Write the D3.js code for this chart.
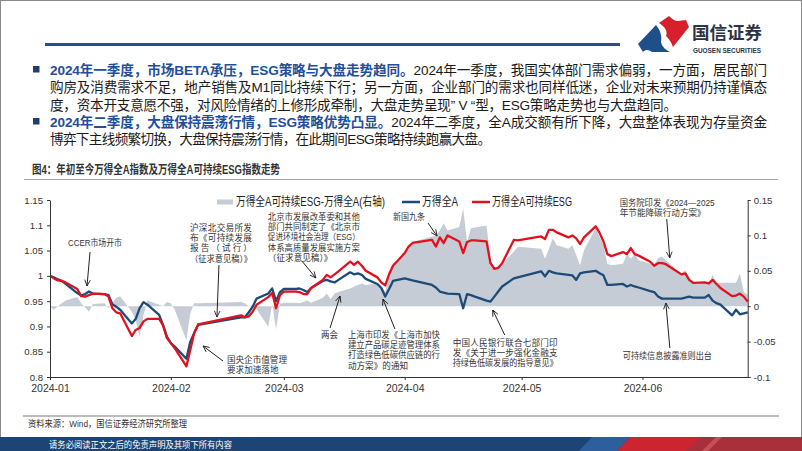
<!DOCTYPE html>
<html><head><meta charset="utf-8">
<script src="https://cdn.jsdelivr.net/npm/d3@7"></script>
<style>
html,body{margin:0;padding:0;background:#fff;}
svg{display:block;}
text{font-family:"Liberation Sans","Noto Sans CJK SC",sans-serif;}
</style></head><body>
<svg id="c" width="802" height="451"></svg>
<script>
// ---------------- DATA ----------------
const dates = [
 "2024-01-01","2024-01-02","2024-01-03","2024-01-04","2024-01-05","2024-01-08","2024-01-09","2024-01-10","2024-01-11","2024-01-12",
 "2024-01-15","2024-01-16","2024-01-17","2024-01-18","2024-01-19","2024-01-22","2024-01-23","2024-01-24","2024-01-25","2024-01-26",
 "2024-01-29","2024-01-30","2024-01-31",
 "2024-02-01","2024-02-02","2024-02-05","2024-02-06","2024-02-07","2024-02-08","2024-02-19","2024-02-20","2024-02-21","2024-02-22",
 "2024-02-23","2024-02-26","2024-02-27","2024-02-28","2024-02-29",
 "2024-03-01","2024-03-04","2024-03-05","2024-03-06","2024-03-07","2024-03-08","2024-03-11","2024-03-12","2024-03-13","2024-03-14",
 "2024-03-15","2024-03-18","2024-03-19","2024-03-20","2024-03-21","2024-03-22","2024-03-25","2024-03-26","2024-03-27","2024-03-28","2024-03-29",
 "2024-04-01","2024-04-02","2024-04-03","2024-04-08","2024-04-09","2024-04-10","2024-04-11","2024-04-12","2024-04-15","2024-04-16",
 "2024-04-17","2024-04-18","2024-04-19","2024-04-22","2024-04-23","2024-04-24","2024-04-25","2024-04-26","2024-04-29","2024-04-30",
 "2024-05-06","2024-05-07","2024-05-08","2024-05-09","2024-05-10","2024-05-13","2024-05-14","2024-05-15","2024-05-16","2024-05-17",
 "2024-05-20","2024-05-21","2024-05-22","2024-05-23","2024-05-24","2024-05-27","2024-05-28","2024-05-29","2024-05-30","2024-05-31",
 "2024-06-03","2024-06-04","2024-06-05","2024-06-06","2024-06-07","2024-06-11","2024-06-12","2024-06-13","2024-06-14","2024-06-17",
 "2024-06-18","2024-06-19","2024-06-20","2024-06-21","2024-06-24","2024-06-25","2024-06-26","2024-06-27","2024-06-28"
];
// 万得全A (left axis)
const allA = [
 1.000,0.997,0.993,0.990,0.984,0.966,0.961,0.964,0.969,0.965,0.964,0.962,0.944,0.939,0.933,0.906,0.915,0.936,0.948,0.943,0.923,0.903,0.880,
 0.867,0.860,0.836,0.870,0.887,0.903,0.918,0.918,0.928,0.939,0.955,0.965,0.975,0.950,0.968,
 0.974,0.974,0.975,0.972,0.968,0.976,0.990,0.992,0.989,0.987,0.992,1.007,1.003,1.005,1.002,0.994,0.984,0.976,0.959,0.974,0.990,
 0.995,0.993,0.991,0.982,0.977,0.969,0.967,0.965,0.964,0.936,0.964,0.962,0.959,0.951,0.949,0.959,0.969,0.979,0.995,0.997,
 1.009,0.999,1.010,1.007,1.005,1.002,1.001,0.992,1.005,1.007,1.010,1.005,1.001,0.982,0.982,0.984,0.979,0.982,0.979,0.977,
 0.970,0.968,0.959,0.955,0.955,0.955,0.957,0.959,0.957,0.957,0.962,0.951,0.946,0.943,0.922,0.933,0.924,0.926,0.928
];
// 万得全A可持续ESG (left axis)
const esgA = [
 1.000,0.995,0.991,0.990,0.987,0.974,0.960,0.959,0.962,0.965,0.964,0.959,0.936,0.928,0.926,0.881,0.893,0.897,0.910,0.915,0.915,0.902,0.877,
 0.867,0.857,0.821,0.854,0.887,0.904,0.922,0.918,0.920,0.929,0.943,0.958,0.966,0.936,0.962,
 0.969,0.969,0.968,0.964,0.964,0.976,0.992,1.002,0.997,1.003,1.009,1.028,1.022,1.028,1.020,1.010,0.997,0.987,0.981,1.003,1.020,
 1.045,1.058,1.065,1.071,1.058,1.076,1.065,1.080,1.068,1.045,1.067,1.070,1.070,1.068,1.025,1.014,1.016,1.025,1.071,1.070,
 1.078,1.073,1.091,1.091,1.086,1.076,1.080,1.074,1.063,1.076,1.098,1.085,1.068,1.043,1.039,1.047,1.043,1.055,1.043,1.040,
 1.028,1.020,1.025,1.025,1.023,1.003,1.005,0.992,0.986,0.987,0.985,0.992,0.984,0.976,0.960,0.961,0.965,0.959,0.949
];
// 万得全A可持续ESG-万得全A (right axis)
const spread = [
 0.000,-0.005,0.000,0.004,0.008,0.013,0.004,-0.002,-0.008,0.003,0.004,-0.003,0.004,0.012,0.014,-0.008,-0.020,-0.043,-0.012,0.008,0.002,0.000,0.006,
 0.004,-0.005,-0.048,-0.010,0.004,0.004,0.006,0.004,0.000,0.002,-0.004,-0.029,0.003,-0.033,0.003,
 0.005,0.005,0.004,0.006,0.008,0.005,0.012,0.018,0.010,0.018,0.020,0.025,0.028,0.030,0.032,0.030,0.032,0.028,0.020,0.045,0.060,
 0.072,0.081,0.091,0.098,0.100,0.107,0.117,0.107,0.112,0.138,0.091,0.110,0.111,0.114,0.065,0.053,0.056,0.060,0.077,0.084,
 0.081,0.067,0.081,0.096,0.086,0.081,0.086,0.072,0.058,0.079,0.110,0.098,0.086,0.060,0.058,0.060,0.074,0.067,0.074,0.065,
 0.060,0.058,0.068,0.070,0.065,0.046,0.051,0.039,0.033,0.033,0.031,0.044,0.032,0.033,0.033,0.033,0.046,0.020,0.016
];
const leftTicks = [0.8,0.85,0.9,0.95,1,1.05,1.1,1.15];
const rightTicks = [-0.1,-0.05,0,0.05,0.1,0.15];
const monthTicks = ["2024-01-01","2024-02-01","2024-03-01","2024-04-01","2024-05-01","2024-06-01"];
const seriesNames = ["万得全A可持续ESG-万得全A(右轴)","万得全A","万得全A可持续ESG"];
const chartTitle = "图4：年初至今万得全A指数及万得全A可持续ESG指数走势";
const sourceText = "资料来源：Wind，国信证券经济研究所整理";
const footerText = "请务必阅读正文之后的免责声明及其项下所有内容";
const paragraphs = [
 [{b:1,t:"2024年一季度，市场BETA承压，ESG策略与大盘走势趋同。"},{b:0,t:"2024年一季度，我国实体部门需求偏弱，一方面，居民部门"}],
 [{b:0,t:"购房及消费需求不足，地产销售及M1同比持续下行；另一方面，企业部门的需求也同样低迷，企业对未来预期仍持谨慎态"}],
 [{b:0,t:"度，资本开支意愿不强，对风险情绪的上修形成牵制，大盘走势呈现” V “型，ESG策略走势也与大盘趋同。"}],
 [{b:1,t:"2024年二季度，大盘保持震荡行情，ESG策略优势凸显。"},{b:0,t:"2024年二季度，全A成交额有所下降，大盘整体表现为存量资金"}],
 [{b:0,t:"博弈下主线频繁切换，大盘保持震荡行情，在此期间ESG策略持续跑赢大盘。"}]
];
// annotations: arrow tip in data space (date, left-axis value)
const notes = [
 {tip:["2024-01-10T12",0.980], tail:[3,-34], dx:-19, dy:-40, w:54, all:1, lines:["CCER市场开市"]},
 {tip:["2024-02-12T20",0.9186], tail:[2,-52], dx:-27, dy:-86, w:62, all:1, lines:["沪深北交易所发","布《可持续发展","报告（试行）","（征求意见稿）》"]},
 {tip:["2024-03-09T05",0.9958], tail:[-14,-17], dx:-48, dy:-58, w:92, all:0, lines:["北京市发展改革委和其他","部门共同制定了《北京市","促进环境社会治理（ESG）","体系高质量发展实施方案","（征求意见稿）》"]},
 {tip:["2024-04-09T07",1.0788], tail:[-9,-13], dx:-44, dy:-16, w:32, all:1, lines:["新国九条"]},
 {tip:["2024-03-15T10",0.9602], tail:[-10,32], dx:-19, dy:42, w:17, all:1, lines:["两会"]},
 {tip:["2024-03-26T10",0.9542], tail:[12,30], dx:-35, dy:39, w:92, all:0, lines:["上海市印发《上海市加快","建立产品碳足迹管理体系","打造绿色低碳供应链的行","动方案》的通知"]},
 {tip:["2024-02-09T06",0.8613], tail:[20,15], dx:24, dy:17, w:60, all:0, lines:["国央企市值管理","要求加速落地"]},
 {tip:["2024-04-23T14",0.9325], tail:[12,25], dx:-40, dy:36, w:105, all:1, lines:["中国人民银行联合七部门印","发《关于进一步强化金融支","持绿色低碳发展的指导意见》"]},
 {tip:["2024-06-08T00",1.0353], tail:[-3,-39], dx:-50, dy:-52, w:95, all:0, lines:["国务院印发《2024—2025","年节能降碳行动方案》"]},
 {tip:["2024-06-07T00",0.9463], tail:[4,45], dx:-43, dy:56, w:89, all:1, lines:["可持续信息披露准则出台"]}
];

// ---------------- DRAW ----------------
const C = {blue:"#1d4b78", red:"#e1121f", area:"#c6ccd5", axis:"#333"};
const svg = d3.select("#c");
// set textLength, squeezing glyphs only when the natural width is too wide
function fit(sel, w){
  const nat = sel.node().getComputedTextLength();
  sel.attr("textLength", w).attr("lengthAdjust", nat > w ? "spacingAndGlyphs" : "spacing");
}
svg.append("rect").attr("x",0.5).attr("y",0.5).attr("width",801).attr("height",450)
  .attr("fill","#fff").attr("stroke","#8a8a8a");

// header
svg.append("rect").attr("x",45).attr("y",43).attr("width",575).attr("height",3).attr("fill","#22508e");
svg.append("path").attr("d","M638,44 L656,25 C661,31 662,37 661,42 C662,47 666,50 670,52 L652,52 C649,50 646,49 643,52 Z").attr("fill","#1f4f8a");
svg.append("path").attr("d","M659,23 L669,16 C672,19 675,21 678,21 L686,20 L689,27 L673,47 C671,41 668,38 666,36 C668,31 665,27 659,23 Z").attr("fill","#d6202c");
svg.append("text").attr("x",692).attr("y",39).attr("font-size",17).attr("font-weight","bold")
  .attr("fill","#2b3446").attr("textLength",70).attr("lengthAdjust","spacingAndGlyphs").text("国信证券");
svg.append("text").attr("x",693).attr("y",53).attr("font-size",7).attr("font-weight","bold")
  .attr("fill","#2b3446").attr("textLength",68).attr("lengthAdjust","spacingAndGlyphs").text("GUOSEN SECURITIES");

// paragraphs: one text element, one tspan per line
const paraY = [75, 92, 109.5, 127, 144];
const paraW = [717, 717, 627, 717, 441];
const pt = svg.append("text").attr("font-size",13.6);
paragraphs.forEach((parts,i)=>{
  const line = pt.append("tspan").attr("x",50).attr("y",paraY[i]);
  parts.forEach(p=>line.append("tspan").attr("fill",p.b?"#1f4f99":"#1a1a1a")
    .attr("font-weight",p.b?"bold":"normal").text(p.t));
  line.attr("textLength",paraW[i]).attr("lengthAdjust","spacing");
});
[paraY[0], paraY[3]].forEach(y=>svg.append("rect").attr("x",33).attr("y",y-9).attr("width",6.5).attr("height",6.5).attr("fill","#1f3f73"));

// chart title
svg.append("text").attr("x",32).attr("y",174).attr("font-size",12).attr("font-weight","bold").attr("fill","#333")
  .attr("textLength",248).attr("lengthAdjust","spacingAndGlyphs").text(chartTitle);
svg.append("line").attr("x1",24).attr("x2",778).attr("y1",179.5).attr("y2",179.5).attr("stroke","#a6a6a6");

// scales
const parse = d3.timeParse("%Y-%m-%d");
const parseH = d3.timeParse("%Y-%m-%dT%H");
const rows = dates.map((d,i)=>({date:parse(d), a:allA[i], e:esgA[i], s:spread[i]}));
const x = d3.scaleTime().domain([parse("2024-01-01"), parse("2024-06-28")]).range([50, 747.7]);
const yL = d3.scaleLinear().domain([0.8,1.15]).range([377,200]);
const yR = d3.scaleLinear().domain([-0.1,0.15]).range([377,200]);

// area
svg.append("path").datum(rows).attr("fill",C.area)
  .attr("d", d3.area().x(d=>x(d.date)).y0(yR(0)).y1(d=>yR(d.s)));
// lines
svg.append("path").datum(rows).attr("fill","none").attr("stroke",C.blue).attr("stroke-width",2.3).attr("stroke-linejoin","round")
  .attr("d", d3.line().x(d=>x(d.date)).y(d=>yL(d.a)));
svg.append("path").datum(rows).attr("fill","none").attr("stroke",C.red).attr("stroke-width",2.3).attr("stroke-linejoin","round")
  .attr("d", d3.line().x(d=>x(d.date)).y(d=>yL(d.e)));

// axes
const fmt = v => String(+v.toFixed(2));
function styleAxis(g){
  g.selectAll("path,line").attr("stroke",C.axis);
  g.selectAll("text").attr("fill","#333").attr("font-size",9.6).style("font-family","'Liberation Sans',sans-serif");
}
svg.append("g").attr("transform","translate(50,0)")
  .call(d3.axisLeft(yL).tickValues(leftTicks).tickSize(3).tickSizeOuter(0).tickPadding(4).tickFormat(fmt)).call(styleAxis);
svg.append("g").attr("transform","translate(747.7,0)")
  .call(d3.axisRight(yR).tickValues(rightTicks).tickSize(3).tickSizeOuter(0).tickPadding(3).tickFormat(fmt)).call(styleAxis);
const xg = svg.append("g").attr("transform","translate(0,377)")
  .call(d3.axisBottom(x).tickValues(monthTicks.map(parse)).tickSize(3).tickSizeOuter(0).tickPadding(5).tickFormat(d3.timeFormat("%Y-%m"))).call(styleAxis);
xg.selectAll("text").attr("font-size",10.5);

// legend
const lg = svg.append("g");
lg.append("rect").attr("x",217).attr("y",199.5).attr("width",16).attr("height",5).attr("fill",C.area);
lg.append("text").attr("x",236).attr("y",205.5).attr("font-size",12).attr("fill","#222")
  .attr("textLength",149).attr("lengthAdjust","spacingAndGlyphs").text(seriesNames[0]);
lg.append("line").attr("x1",402).attr("x2",420).attr("y1",202).attr("y2",202).attr("stroke",C.blue).attr("stroke-width",2.5);
lg.append("text").attr("x",422).attr("y",205.5).attr("font-size",12).attr("fill","#222")
  .attr("textLength",36).attr("lengthAdjust","spacingAndGlyphs").text(seriesNames[1]);
lg.append("line").attr("x1",472).attr("x2",490).attr("y1",202).attr("y2",202).attr("stroke",C.red).attr("stroke-width",2.5);
lg.append("text").attr("x",492).attr("y",205.5).attr("font-size",12).attr("fill","#222")
  .attr("textLength",80).attr("lengthAdjust","spacingAndGlyphs").text(seriesNames[2]);

// annotations
svg.append("defs").append("marker").attr("id","ah").attr("viewBox","0 0 8 8").attr("refX",7.5).attr("refY",4)
  .attr("markerWidth",7).attr("markerHeight",7).attr("markerUnits","userSpaceOnUse").attr("orient","auto")
  .append("path").attr("d","M0.5,0.8 L7.5,4 L0.5,7.2").attr("fill","none").attr("stroke","#222").attr("stroke-width",1);
notes.forEach(n=>{
  const tx = x(parseH(n.tip[0])), ty = yL(n.tip[1]);
  svg.append("line").attr("x1",tx+n.tail[0]).attr("y1",ty+n.tail[1]).attr("x2",tx).attr("y2",ty)
    .attr("stroke","#222").attr("stroke-width",1).attr("marker-end","url(#ah)");
  const t = svg.append("text").attr("font-size",8.6).attr("fill","#333");
  n.lines.forEach((l,i)=>{
    const s = t.append("tspan").attr("x",tx+n.dx).attr("y",ty+n.dy+i*10.2).text(l);
    if (n.all || i < n.lines.length-1) fit(s, n.w);
  });
});

// footer
svg.append("line").attr("x1",23).attr("x2",779).attr("y1",416).attr("y2",416).attr("stroke","#a6a6a6").attr("stroke-width",1.5);
svg.append("text").attr("x",28).attr("y",427).attr("font-size",9.6).attr("fill","#333")
  .attr("textLength",159).attr("lengthAdjust","spacingAndGlyphs").text(sourceText);
svg.append("rect").attr("x",0).attr("y",437).attr("width",802).attr("height",14).attr("fill","#1c4475");
svg.append("path").attr("d","M592,437 L630,437 L617,451 L579,451 Z").attr("fill","#2e5f9c");
svg.append("path").attr("d","M630,437 L802,437 L802,451 L617,451 Z").attr("fill","#cc2430");
svg.append("path").attr("d","M700,437 L802,437 L802,451 L686,451 Z").attr("fill","#a8303b");
svg.append("path").attr("d","M716,437 L722,437 L708,451 L702,451 Z").attr("fill","#c4505a");
svg.append("text").attr("x",49).attr("y",447.5).attr("font-size",8.6).attr("fill","#fff")
  .attr("textLength",183).attr("lengthAdjust","spacingAndGlyphs").text(footerText);
</script>
</body></html>
